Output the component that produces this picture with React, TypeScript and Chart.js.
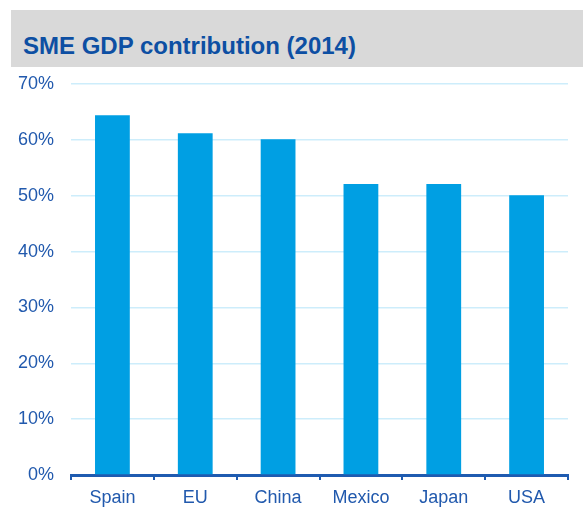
import React, { useEffect, useRef } from "react";
import { Chart, registerables } from "chart.js";

Chart.register(...registerables);

const title = "SME GDP contribution (2014)";
const categories = ["Spain", "EU", "China", "Mexico", "Japan", "USA"];
const values = [64.4, 61.2, 60.1, 52.1, 52.1, 50.1];
const yMin = 0;
const yMax = 70;
const yStep = 10;

const AXIS_BLUE = "#1f5bb0";
const LABEL_BLUE = "#2159ad";

export default function App() {
  const ref = useRef<HTMLCanvasElement | null>(null);

  useEffect(() => {
    document.body.style.margin = "0";
    const ctx = ref.current!;
    const chart = new Chart(ctx, {
      type: "bar",
      data: {
        labels: categories,
        datasets: [
          {
            data: values,
            backgroundColor: "#009fe3",
            borderWidth: 0,
            categoryPercentage: 1,
            barPercentage: 0.42,
          },
        ],
      },
      options: {
        animation: false,
        responsive: false,
        devicePixelRatio: 1,
        layout: { padding: { top: 84, right: 15, left: 0, bottom: 0 } },
        plugins: { legend: { display: false }, tooltip: { enabled: false }, title: { display: false } },
        scales: {
          x: {
            z: 1,
            offset: true,
            grid: {
              display: true,
              drawOnChartArea: false,
              drawTicks: true,
              tickLength: 5,
              color: AXIS_BLUE,
              lineWidth: 2,
            },
            border: { display: true, color: AXIS_BLUE, width: 3 },
            ticks: {
              color: LABEL_BLUE,
              padding: 7,
              font: { family: "'Liberation Sans', Arial, sans-serif", size: 18 },
              maxRotation: 0,
            },
            afterFit: (s: any) => {
              s.height = 42;
            },
          },
          y: {
            min: yMin,
            max: yMax,
            ticks: {
              stepSize: yStep,
              color: LABEL_BLUE,
              padding: 17,
              font: { family: "'Liberation Sans', Arial, sans-serif", size: 18 },
              callback: (v: any) => v + "%",
            },
            grid: { color: "#cdedfb", lineWidth: 1.5, drawTicks: false },
            border: { display: false },
            afterFit: (s: any) => {
              s.width = 71;
            },
          },
        },
      },
    });
    return () => chart.destroy();
  }, []);

  return (
    <div style={{ position: "relative", width: 583, height: 517, overflow: "hidden", background: "#fff" }}>
      <div
        style={{
          position: "absolute",
          left: 11,
          top: 10,
          width: 572,
          height: 57,
          background: "#d9d9d9",
        }}
      />
      <div
        style={{
          position: "absolute",
          left: 23,
          top: 34,
          fontFamily: "'Liberation Sans', Arial, sans-serif",
          fontWeight: "bold",
          fontSize: 24,
          lineHeight: "24px",
          color: "#0d4fa3",
          whiteSpace: "nowrap",
        }}
      >
        {title}
      </div>
      <canvas
        ref={ref}
        width={583}
        height={517}
        style={{ position: "absolute", left: 0, top: 0, width: 583, height: 517 }}
      />
    </div>
  );
}
